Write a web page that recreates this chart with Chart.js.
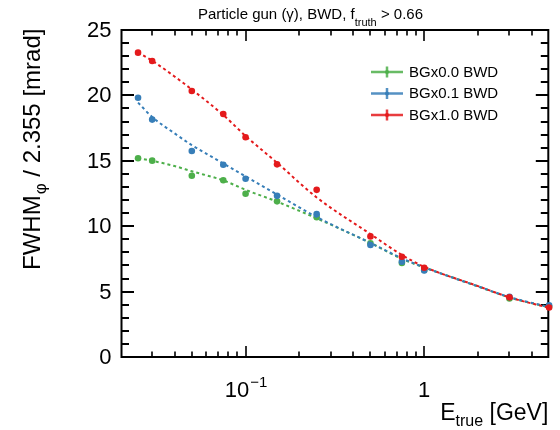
<!DOCTYPE html>
<html>
<head>
<meta charset="utf-8">
<script src="https://cdn.jsdelivr.net/npm/chart.js@4/dist/chart.umd.min.js"></script>
<style>
  html, body { margin: 0; padding: 0; background: #fff; }
  #wrap { width: 560px; height: 430px; }
</style>
</head>
<body>
<div id="wrap"><canvas id="c" width="560" height="430"></canvas></div>
<script>
// Photon energies of the measured points [GeV]
const energies = [0.025, 0.03, 0.05, 0.075, 0.1, 0.15, 0.25, 0.5, 0.75, 1, 3, 5];
// FWHM_phi / 2.355 [mrad] for each beam-background scale
const resBG00 = [15.19, 15.01, 13.86, 13.51, 12.48, 11.90, 10.68, 8.69, 7.19, 6.65, 4.48, 3.85];
const resBG01 = [19.82, 18.15, 15.75, 14.70, 13.63, 12.32, 10.92, 8.56, 7.29, 6.62, 4.60, 3.95];
const resBG10 = [23.27, 22.63, 20.34, 18.58, 16.80, 14.73, 12.78, 9.22, 7.67, 6.82, 4.56, 3.78];

// Fitted resolution curves, sampled at these energies
const fitEnergies = [0.025, 0.03, 0.04, 0.05, 0.075, 0.1, 0.15, 0.25, 0.5, 0.75, 1, 2, 3, 5];
const fitBG00 = [15.20, 15.00, 14.60, 14.20, 13.50, 12.78, 11.88, 10.60, 8.72, 7.50, 6.85, 5.40, 4.55, 3.80];
const fitBG01 = [19.45, 18.35, 17.10, 16.20, 14.80, 13.80, 12.42, 10.70, 8.72, 7.55, 6.85, 5.40, 4.58, 3.82];
const fitBG10 = [23.30, 22.65, 21.45, 20.45, 18.50, 16.90, 14.85, 12.20, 9.40, 7.80, 6.90, 5.42, 4.56, 3.76];

const seriesNames = ['BGx0.0 BWD', 'BGx0.1 BWD', 'BGx1.0 BWD'];
const seriesColors = ['#4daf4a', '#377eb8', '#e41a1c'];

const yTicks = [0, 5, 10, 15, 20, 25];
const xMajorTicks = [0.1, 1];
const xMinorTicks = [0.03, 0.04, 0.05, 0.06, 0.07, 0.08, 0.09,
                     0.2, 0.3, 0.4, 0.5, 0.6, 0.7, 0.8, 0.9, 2, 3, 4];

const FONT = '"Liberation Sans", Arial, Helvetica, sans-serif';

function pts(xs, ys) { return xs.map((x, i) => ({ x: x, y: ys[i] })); }

const pointSets = [resBG00, resBG01, resBG10];
const fitSets = [fitBG00, fitBG01, fitBG10];

const datasets = [];
// higher "order" is painted first, so BGx1.0 ends up on top
[0, 1, 2].forEach(i => {
  datasets.push({
    label: seriesNames[i] + ' fit',
    data: pts(fitEnergies, fitSets[i]),
    showLine: true,
    borderColor: seriesColors[i],
    borderWidth: 2,
    borderDash: [3, 3],
    cubicInterpolationMode: 'monotone',
    pointRadius: 0,
    fill: false,
    order: 10 - i * 2
  });
  datasets.push({
    label: seriesNames[i],
    data: pts(energies, pointSets[i]),
    showLine: false,
    pointRadius: 3.3,
    pointBackgroundColor: seriesColors[i],
    pointBorderColor: seriesColors[i],
    pointBorderWidth: 0,
    clip: false,
    order: 9 - i * 2
  });
});

// Frame with inward ticks on all four sides
const framePlugin = {
  id: 'frame',
  beforeDatasetsDraw(chart) {
    const { ctx, chartArea: a, scales } = chart;
    const xs = scales.x, ys = scales.y;
    ctx.save();
    ctx.strokeStyle = '#000';
    ctx.lineWidth = 2;
    ctx.strokeRect(a.left, a.top, a.right - a.left, a.bottom - a.top);

    ctx.lineWidth = 2;
    for (let v = 1; v < 25; v++) {
      const y = Math.round(ys.getPixelForValue(v));
      const len = v % 5 === 0 ? 12.5 : 7.5;
      ctx.beginPath();
      ctx.moveTo(a.left, y); ctx.lineTo(a.left + len, y);
      ctx.moveTo(a.right, y); ctx.lineTo(a.right - len, y);
      ctx.stroke();
    }
    ctx.lineWidth = 1.6;
    const xTick = (v, len) => {
      const x = Math.round(xs.getPixelForValue(v));
      ctx.beginPath();
      ctx.moveTo(x, a.bottom); ctx.lineTo(x, a.bottom - len);
      ctx.moveTo(x, a.top); ctx.lineTo(x, a.top + len);
      ctx.stroke();
    };
    xMinorTicks.forEach(v => xTick(v, 5.5));
    xMajorTicks.forEach(v => xTick(v, 11));
    ctx.restore();
  },
  afterDraw(chart) {
    const { ctx, chartArea: a, scales } = chart;
    const xs = scales.x, ys = scales.y;
    ctx.save();
    ctx.fillStyle = '#000';

    // y tick labels
    ctx.font = '22px ' + FONT;
    ctx.textAlign = 'right';
    ctx.textBaseline = 'middle';
    yTicks.forEach(v => ctx.fillText(String(v), 111.5, ys.getPixelForValue(v) + 1));

    // x tick labels: 10^-1 and 1
    ctx.textBaseline = 'alphabetic';
    const xl = xs.getPixelForValue(0.1);
    ctx.font = '22px ' + FONT;
    const w10 = ctx.measureText('10').width;
    ctx.font = '15px ' + FONT;
    const wExp = ctx.measureText('\u22121').width;
    const start = xl - (w10 + wExp) / 2;
    ctx.textAlign = 'left';
    ctx.font = '22px ' + FONT;
    ctx.fillText('10', start, 397);
    ctx.font = '15px ' + FONT;
    ctx.fillText('\u22121', start + w10 + 1, 387);
    ctx.font = '22px ' + FONT;
    ctx.textAlign = 'center';
    ctx.fillText('1', xs.getPixelForValue(1), 397);

    // x axis title: E_true [GeV]
    ctx.textAlign = 'left';
    ctx.font = '23px ' + FONT;
    const wE = ctx.measureText('E').width;
    const wRest = ctx.measureText(' [GeV]').width;
    ctx.font = '16px ' + FONT;
    const wSub = ctx.measureText('true').width;
    let x0 = a.right - (wE + wSub + wRest);
    ctx.font = '23px ' + FONT;
    ctx.fillText('E', x0, 420);
    ctx.font = '16px ' + FONT;
    ctx.fillText('true', x0 + wE, 426);
    ctx.font = '23px ' + FONT;
    ctx.fillText(' [GeV]', x0 + wE + wSub, 420);

    // y axis title: FWHM_phi / 2.355 [mrad], rotated
    ctx.save();
    ctx.translate(40, 270);
    ctx.rotate(-Math.PI / 2);
    ctx.font = '24px ' + FONT;
    const wF = ctx.measureText('FWHM').width;
    ctx.fillText('FWHM', 0, 0);
    ctx.font = '17px ' + FONT;
    const wPhi = ctx.measureText('\u03c6').width;
    ctx.fillText('\u03c6', wF + 1, 6);
    ctx.font = '24px ' + FONT;
    ctx.fillText(' / 2.355 [mrad]', wF + wPhi + 1, 0);
    ctx.restore();

    // title: Particle gun (gamma), BWD, f_truth > 0.66
    ctx.font = '15px ' + FONT;
    const t1 = 'Particle gun (\u03b3), BWD, f';
    let tx = 198;
    ctx.fillText(t1, tx, 19);
    tx += ctx.measureText(t1).width;
    ctx.font = '11px ' + FONT;
    ctx.fillText('truth', tx, 26);
    tx += ctx.measureText('truth').width;
    ctx.font = '15px ' + FONT;
    ctx.fillText(' > 0.66', tx, 19);

    // legend
    const legendY = [72, 93.5, 115];
    ctx.textBaseline = 'middle';
    ctx.font = '15px ' + FONT;
    seriesNames.forEach((name, i) => {
      const y = legendY[i];
      ctx.strokeStyle = seriesColors[i];
      ctx.globalAlpha = 0.85;
      ctx.lineWidth = 2.5;
      ctx.beginPath();
      ctx.moveTo(371, y); ctx.lineTo(403, y);
      ctx.moveTo(387, y - 5.5); ctx.lineTo(387, y + 5.5);
      ctx.stroke();
      ctx.globalAlpha = 1;
      ctx.fillStyle = seriesColors[i];
      ctx.beginPath();
      ctx.arc(387, y, 2, 0, Math.PI * 2);
      ctx.fill();
      ctx.fillStyle = '#000';
      ctx.fillText(name, 409, y + 0.5);
    });
    ctx.restore();
  }
};

new Chart(document.getElementById('c'), {
  type: 'scatter',
  data: { datasets: datasets },
  options: {
    responsive: false,
    devicePixelRatio: 1,
    animation: false,
    layout: { padding: { left: 121.5, right: 11.7, top: 30, bottom: 73 } },
    plugins: { legend: { display: false }, tooltip: { enabled: false }, title: { display: false } },
    scales: {
      x: {
        type: 'logarithmic',
        min: 0.0202,
        max: 4.95,
        grid: { display: false },
        border: { display: false },
        ticks: { display: false },
        afterFit(scale) { scale.height = 0; }
      },
      y: {
        type: 'linear',
        min: 0,
        max: 25,
        grid: { display: false },
        border: { display: false },
        ticks: { display: false },
        afterFit(scale) { scale.width = 0; }
      }
    }
  },
  plugins: [framePlugin]
});
</script>
</body>
</html>
